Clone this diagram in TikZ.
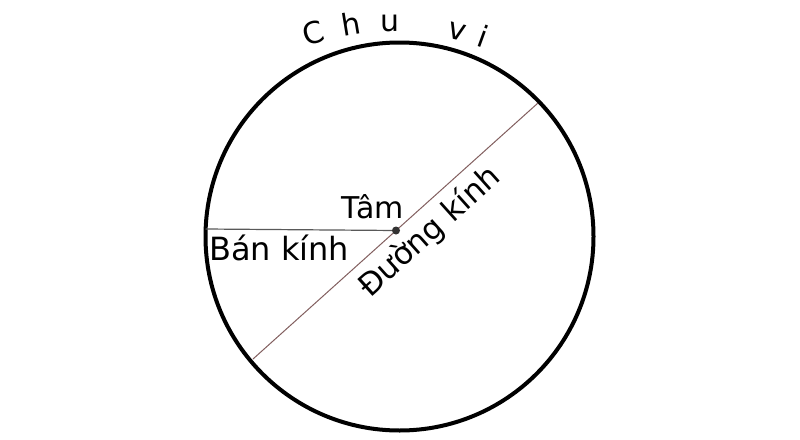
\documentclass[tikz,border=0pt]{standalone}
\usepackage{fontspec}
\setmainfont{DejaVu Sans}
\begin{document}
\begin{tikzpicture}[x=1pt,y=-1pt,
  lbl/.style={inner sep=0pt,font=\fontsize{30}{36}\selectfont},
  arcletter/.style={inner sep=0pt,anchor=base,font=\fontsize{30}{36}\selectfont}]
\useasboundingbox[fill=white] (0,0) rectangle (800,439);
% circle
\coordinate (O) at (399.5,236.5);
\draw[line width=4pt] (O) circle[radius=194];
% centre
\coordinate (C) at (396,230.5);
\coordinate (R) at (205.5,229);
\coordinate (D1) at (253,359);
\coordinate (D2) at (538,103);
\draw[line width=1.2pt,color=black!65] (R) -- (C);
\draw[line width=1pt,color={rgb,255:red,130;green,95;blue,95}] (D1) -- (D2);
\fill[black!80] (C) circle[radius=4];
% labels
\node[lbl,anchor=base west] (tam) at (341,218) {Tâm};
\node[lbl,anchor=base west,font=\fontsize{32}{38}\selectfont] (bk) at (209,260) {Bán kính};
\node[lbl,rotate=41.9,font=\fontsize{31}{37}\selectfont] (dk) at (430,232) {Đường kính};
% Chu vi along arc
\node[arcletter,rotate=17.1] (c1) at (316.5,43.4) {C};
\node[arcletter,rotate=9.4] (c2) at (352.5,34.8) {h};
\node[arcletter,rotate=0.2] (c3) at (390.5,31.5) {u};
\node[arcletter,rotate=-14.1] (c4) at (454.9,39.8) {v};
\node[arcletter,rotate=-19.9] (c5) at (479.5,47.4) {i};
\end{tikzpicture}
\end{document}
